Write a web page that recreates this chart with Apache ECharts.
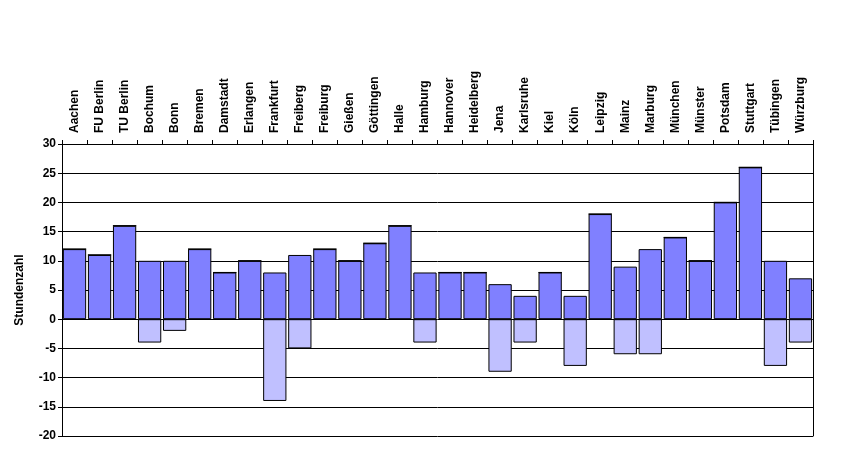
<!DOCTYPE html>
<html>
<head>
<meta charset="utf-8">
<script src="https://cdn.jsdelivr.net/npm/echarts@6/dist/echarts.min.js"></script>
<style>
html, body {margin: 0; padding: 0; background: #fff;}
#main {width: 864px; height: 462px;}
</style>
</head>
<body>
<div id="main"></div>
<script>
//Hochschulen
var cities = ['Aachen', 'FU Berlin', 'TU Berlin', 'Bochum', 'Bonn', 'Bremen', 'Damstadt', 'Erlangen', 'Frankfurt', 'Freiberg',
    'Freiburg', 'Gießen', 'Göttingen', 'Halle', 'Hamburg', 'Hannover', 'Heidelberg', 'Jena', 'Karlsruhe', 'Kiel',
    'Köln', 'Leipzig', 'Mainz', 'Marburg', 'München', 'Münster', 'Potsdam', 'Stuttgart', 'Tübingen', 'Würzburg'];
//positive Stundenzahl
var plusHours = [12, 11, 16, 10, 10, 12, 8, 10, 8, 11,
    12, 10, 13, 16, 8, 8, 8, 6, 4, 8,
    4, 18, 9, 12, 14, 10, 20, 26, 10, 7];
//negative Stundenzahl
var minusHours = [0, 0, 0, -4, -2, 0, 0, 0, -14, -5,
    0, 0, 0, 0, -4, 0, 0, -9, -4, 0,
    -8, 0, -6, -6, 0, 0, 0, 0, -8, -4];
var yMin = -20, yMax = 30, yStep = 5;

var _font = 'Liberation Sans, Arial, sans-serif';
var myChart = echarts.init(document.getElementById('main'), null, {renderer: 'canvas'});

var option = {
    backgroundColor: '#ffffff',
    animation: false,
    grid: {
        left: 62,
        right: 51,
        top: 144,
        bottom: 26
    },
    xAxis: {
        type: 'category',
        position: 'top',
        data: cities,
        boundaryGap: true,
        axisLine: {show: true, onZero: false, lineStyle: {color: '#000', width: 1}},
        axisTick: {show: true, length: 4, lineStyle: {color: '#000'}},
        axisLabel: {
            rotate: -90,
            interval: 0,
            margin: 11,
            color: '#000',
            fontFamily: _font,
            fontWeight: 'bold',
            fontSize: 12
        },
        splitLine: {show: false}
    },
    yAxis: [
        {
            type: 'value',
            min: yMin,
            max: yMax,
            interval: yStep,
            name: 'Stundenzahl',
            nameLocation: 'middle',
            nameGap: 36,
            nameTextStyle: {color: '#000', fontFamily: _font, fontWeight: 'bold', fontSize: 12},
            axisLine: {show: true, lineStyle: {color: '#000', width: 1}},
            axisTick: {show: true, length: 4, lineStyle: {color: '#000'}},
            axisLabel: {color: '#000', fontFamily: _font, fontWeight: 'bold', fontSize: 12, margin: 6},
            splitLine: {show: true, lineStyle: {color: '#000', width: 1, type: 'solid'}}
        },
        {
            // rechter Rand
            type: 'value',
            position: 'right',
            min: yMin,
            max: yMax,
            interval: yStep,
            axisLine: {show: true, lineStyle: {color: '#000', width: 1}},
            axisTick: {show: false},
            axisLabel: {show: false},
            splitLine: {show: false}
        }
    ],
    series: [
        {
            name: 'plus',
            type: 'bar',
            stack: 'std',
            data: plusHours,
            barCategoryGap: '7%',
            itemStyle: {color: '#8080ff', borderColor: '#000', borderWidth: 1}
        },
        {
            name: 'minus',
            type: 'bar',
            stack: 'std',
            data: minusHours,
            barCategoryGap: '7%',
            itemStyle: {color: '#c0c0ff', borderColor: '#000', borderWidth: 1}
        }
    ]
};
myChart.setOption(option);
</script>
</body>
</html>
